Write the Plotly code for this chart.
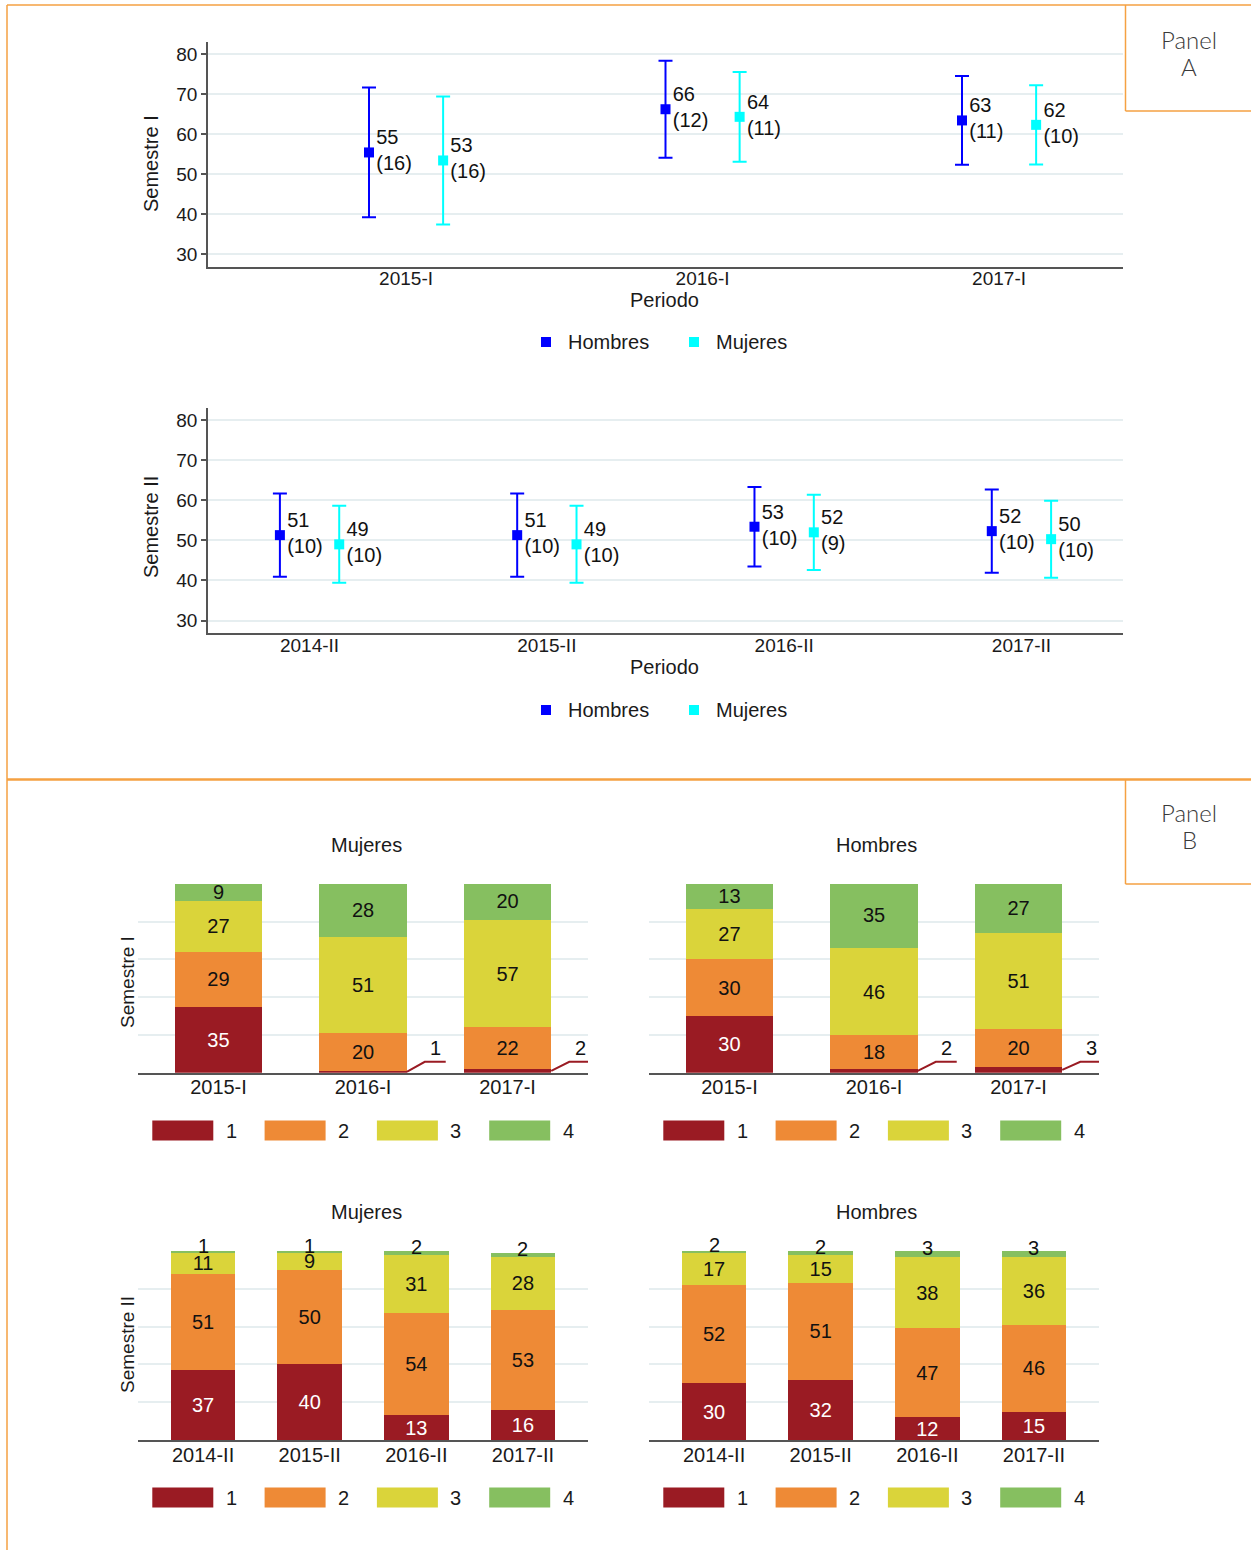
import plotly.graph_objects as go

W, H = 1251, 1550
FONT = "Liberation Sans, Arial, sans-serif"
ORANGE = "#F5A142"
GRID = "#E6EEF0"
AXC = "#555555"

# ---------------- Panel A data ----------------
periods_s1 = ["2015-I", "2016-I", "2017-I"]
hom_mean_s1 = [55.4, 66.2, 63.4]
hom_sd_s1 = [16.2, 12.1, 11.1]
muj_mean_s1 = [53.4, 64.3, 62.3]
muj_sd_s1 = [16.0, 11.2, 9.9]

periods_s2 = ["2014-II", "2015-II", "2016-II", "2017-II"]
hom_mean_s2 = [51.3, 51.3, 53.4, 52.3]
hom_sd_s2 = [10.4, 10.4, 9.9, 10.4]
muj_mean_s2 = [49.0, 49.0, 52.0, 50.3]
muj_sd_s2 = [9.6, 9.6, 9.4, 9.6]

y_ticks_a = [30, 40, 50, 60, 70, 80]

# ---------------- Panel B data (rows = level 1..4) ----------------
levels = ["1", "2", "3", "4"]
level_colors = ["#9A1B23", "#EE8A36", "#DAD43A", "#86BF60"]
level_text_colors = ["white", "#111111", "#111111", "#111111"]

mujeres_s1 = [[35, 1, 2], [29, 20, 22], [27, 51, 57], [9, 28, 20]]
hombres_s1 = [[30, 2, 3], [30, 18, 20], [27, 46, 51], [13, 35, 27]]
mujeres_s2 = [[37, 40, 13, 16], [51, 50, 54, 53], [11, 9, 31, 28], [1, 1, 2, 2]]
hombres_s2 = [[30, 32, 12, 15], [52, 51, 47, 46], [17, 15, 38, 36], [2, 2, 3, 3]]


def px(x):
    return x / W


def py(y):
    return 1 - y / H


fig = go.Figure()
annotations = []
shapes = []

# ---------------- Panel A traces ----------------
OFF = 0.125


def add_panel_a(periods, hm, hs, mm, ms, xa, ya):
    xs = list(range(len(periods)))
    for means, sds, col, sign in [(hm, hs, "#0000FF", -1), (mm, ms, "#00FFFF", 1)]:
        fig.add_trace(go.Scatter(
            x=[i + sign * OFF for i in xs], y=means,
            mode="markers+text",
            marker=dict(symbol="square", size=10, color=col),
            error_y=dict(type="data", array=sds, visible=True, color=col, thickness=2, width=7),
            text=[f"{round(m)}<br>({round(s)})" for m, s in zip(means, sds)],
            textposition="middle right",
            textfont=dict(family=FONT, size=20, color="#111111"),
            xaxis=xa, yaxis=ya, showlegend=False, hoverinfo="skip", cliponaxis=False,
        ))


add_panel_a(periods_s1, hom_mean_s1, hom_sd_s1, muj_mean_s1, muj_sd_s1, "x", "y")
add_panel_a(periods_s2, hom_mean_s2, hom_sd_s2, muj_mean_s2, muj_sd_s2, "x2", "y2")

# ---------------- Panel B traces ----------------
BW = 0.605
LEADER_Y = 5.8


def add_panel_b(data, periods, xa, ya):
    xs = list(range(len(periods)))
    cum = [0] * len(xs)
    for k, vals in enumerate(data):
        fig.add_trace(go.Bar(
            x=xs, y=vals, width=BW,
            marker=dict(color=level_colors[k], line=dict(width=0)),
            text=[str(v) if v >= 5 else "" for v in vals],
            textposition="inside", insidetextanchor="middle", textangle=0,
            constraintext="none",
            textfont=dict(family=FONT, size=20, color=level_text_colors[k]),
            xaxis=xa, yaxis=ya, showlegend=False, hoverinfo="skip",
        ))
        for i, v in enumerate(vals):
            if v < 5:
                if k == 0:
                    x0 = xs[i] + BW / 2
                    fig.add_trace(go.Scatter(
                        x=[x0, x0 + 0.125, x0 + 0.27], y=[v / 2, LEADER_Y, LEADER_Y],
                        mode="lines", line=dict(color=level_colors[0], width=2),
                        xaxis=xa, yaxis=ya, showlegend=False, hoverinfo="skip", cliponaxis=False,
                    ))
                    annotations.append(dict(
                        x=x0 + 0.2, y=LEADER_Y, xref=xa, yref=ya, text=str(v),
                        showarrow=False, yanchor="bottom", xanchor="center", yshift=1,
                        font=dict(family=FONT, size=20, color="#111111"),
                    ))
                else:
                    annotations.append(dict(
                        x=xs[i], y=cum[i] + v / 2, xref=xa, yref=ya, text=str(v),
                        showarrow=False, yanchor="middle", xanchor="center", yshift=6,
                        font=dict(family=FONT, size=20, color="#111111"),
                    ))
            cum[i] += v


add_panel_b(mujeres_s1, periods_s1, "x3", "y3")
add_panel_b(hombres_s1, periods_s1, "x4", "y4")
add_panel_b(mujeres_s2, periods_s2, "x5", "y5")
add_panel_b(hombres_s2, periods_s2, "x6", "y6")

# ---------------- Axes ----------------
tickfont_a = dict(family=FONT, size=19, color="#1a1a1a")
tickfont_b = dict(family=FONT, size=20, color="#1a1a1a")

layout_axes = {}


def xa_a(periods, rng, anchor):
    return dict(domain=[px(208), px(1123)], anchor=anchor, range=rng,
                tickmode="array", tickvals=list(range(len(periods))), ticktext=periods,
                showline=True, linecolor=AXC, linewidth=1.5, showgrid=False, zeroline=False,
                ticks="", tickfont=tickfont_a, ticklabelstandoff=-6, fixedrange=True)


def ya_a(top, bottom, anchor):
    return dict(domain=[py(bottom), py(top)], anchor=anchor, range=[26.9, 83],
                tickmode="array", tickvals=y_ticks_a,
                showline=True, linecolor=AXC, linewidth=1.5, ticks="outside", ticklen=5,
                tickcolor=AXC, tickwidth=1.5, showgrid=True, gridcolor=GRID, gridwidth=1.5,
                zeroline=False, tickfont=tickfont_a, fixedrange=True)


layout_axes["xaxis"] = xa_a(periods_s1, [-0.668, 2.418], "y")
layout_axes["yaxis"] = ya_a(42, 266.5, "x")
layout_axes["xaxis2"] = xa_a(periods_s2, [-0.428, 3.428], "y2")
layout_axes["yaxis2"] = ya_a(408, 633, "x2")


def xa_b(periods, left, right, anchor, margin):
    n = len(periods)
    return dict(domain=[px(left), px(right)], anchor=anchor, range=[-margin, n - 1 + margin],
                tickmode="array", tickvals=list(range(n)), ticktext=periods,
                showline=True, linecolor=AXC, linewidth=1.5, showgrid=False, zeroline=False,
                ticks="", tickfont=tickfont_b, ticklabelstandoff=-4, fixedrange=True)


def ya_b(top, bottom, anchor):
    return dict(domain=[py(bottom), py(top)], anchor=anchor, range=[0, 100],
                tickmode="linear", tick0=0, dtick=20, showticklabels=False,
                showline=False, showgrid=True, gridcolor=GRID, gridwidth=1.5,
                zeroline=False, fixedrange=True)


layout_axes["xaxis3"] = xa_b(periods_s1, 138, 588, "y3", 0.557)
layout_axes["yaxis3"] = ya_b(884, 1072.7, "x3")
layout_axes["xaxis4"] = xa_b(periods_s1, 649, 1099, "y4", 0.557)
layout_axes["yaxis4"] = ya_b(884, 1072.7, "x4")
layout_axes["xaxis5"] = xa_b(periods_s2, 138, 588, "y5", 0.61)
layout_axes["yaxis5"] = ya_b(1251, 1440, "x5")
layout_axes["xaxis6"] = xa_b(periods_s2, 649, 1099, "y6", 0.61)
layout_axes["yaxis6"] = ya_b(1251, 1440, "x6")


# ---------------- Text annotations ----------------
def txt(x, y, s, size=19, angle=0, xanchor="center", family=FONT, color="#1a1a1a", weight=None):
    f = dict(family=family, size=size, color=color)
    if weight:
        f["weight"] = weight
    annotations.append(dict(x=px(x), y=py(y), xref="paper", yref="paper", text=s,
                            showarrow=False, textangle=angle, xanchor=xanchor, yanchor="middle",
                            font=f))


# Panel A titles
txt(151, 164, "Semestre I", size=20, angle=-90)
txt(151, 527, "Semestre II", size=20, angle=-90)
txt(665, 300, "Periodo", size=20)
txt(665, 667, "Periodo", size=20)

# Panel A legends
for ly in (342, 710):
    for cx, col, lab in [(546, "#0000FF", "Hombres"), (694, "#00FFFF", "Mujeres")]:
        shapes.append(dict(type="rect", xref="paper", yref="paper",
                           x0=px(cx - 5), x1=px(cx + 5), y0=py(ly + 5), y1=py(ly - 5),
                           fillcolor=col, line=dict(width=0)))
        txt(cx + 20, ly, lab, size=20, xanchor="left")

# Panel B titles
txt(366, 845, "Mujeres", size=20)
txt(876, 845, "Hombres", size=20)
txt(366, 1212, "Mujeres", size=20)
txt(876, 1212, "Hombres", size=20)
txt(127, 982, "Semestre I", size=19, angle=-90)
txt(127, 1345, "Semestre II", size=19, angle=-90)

# Panel B legends
for left in (138, 649):
    for ly in (1130.5, 1497.5):
        for k, lab in enumerate(levels):
            x0 = left + 14.3 + k * 112.3
            shapes.append(dict(type="rect", xref="paper", yref="paper",
                               x0=px(x0), x1=px(x0 + 61), y0=py(ly + 10), y1=py(ly - 10),
                               fillcolor=level_colors[k], line=dict(width=0)))
            txt(x0 + 79, ly, lab, size=20)

# Panel labels
PFONT = "Lato, Open Sans, sans-serif"
txt(1189, 40, "Panel", size=24, family=PFONT, color="#3a3a3a", weight=300)
txt(1189, 66, "A", size=24, family=PFONT, color="#3a3a3a", weight=300)
txt(1189, 812, "Panel", size=24, family=PFONT, color="#3a3a3a", weight=300)
txt(1189, 839, "B", size=24, family=PFONT, color="#3a3a3a", weight=300)


# ---------------- Frame lines ----------------
def line(x0, y0, x1, y1, w=1.5):
    shapes.append(dict(type="line", xref="paper", yref="paper",
                       x0=px(x0), y0=py(y0), x1=px(x1), y1=py(y1),
                       line=dict(color=ORANGE, width=w)))


line(7, 5, 1251, 5)
line(7, 5, 7, 1550)
line(7, 779.5, 1251, 779.5, 2.5)
line(1125.5, 5, 1125.5, 111)
line(1125.5, 111, 1251, 111)
line(1125.5, 780, 1125.5, 884)
line(1125.5, 884, 1251, 884)

fig.update_layout(
    width=W, height=H,
    margin=dict(l=0, r=0, t=0, b=0),
    paper_bgcolor="white", plot_bgcolor="white",
    barmode="stack",
    showlegend=False,
    hovermode=False,
    annotations=annotations,
    shapes=shapes,
    font=dict(family=FONT, color="#1a1a1a"),
    **layout_axes,
)

fig.write_html("out.html", config={"displayModeBar": False})
